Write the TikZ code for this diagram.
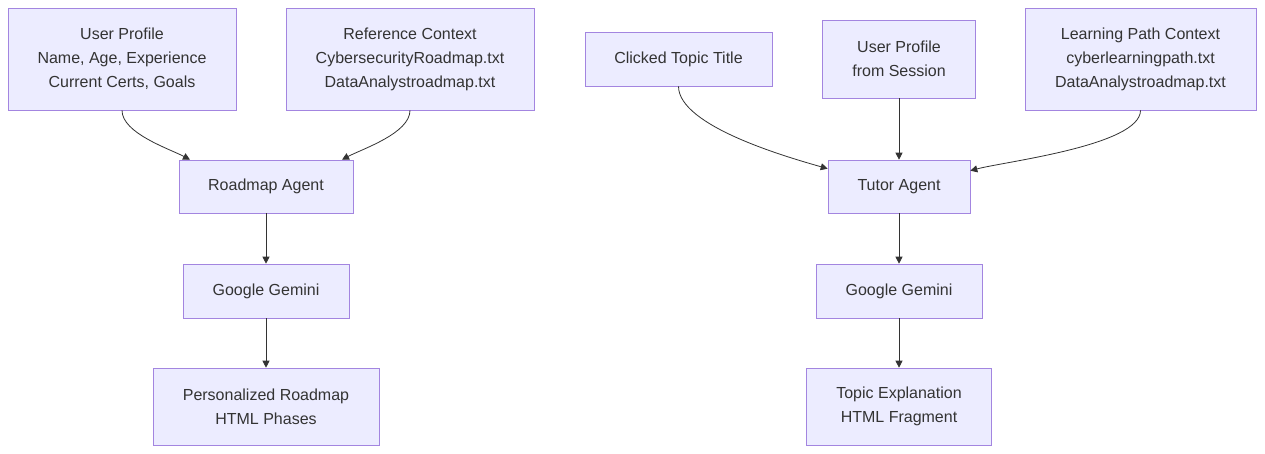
\documentclass[tikz,border=0pt]{standalone}
\usepackage{fontspec}
\setmainfont{Liberation Sans}
\usepackage{xcolor}
\usetikzlibrary{arrows.meta}
\definecolor{boxfill}{HTML}{ECECFF}
\definecolor{boxline}{HTML}{9370DB}
\definecolor{ink}{HTML}{333333}
\begin{document}
\begin{tikzpicture}[x=1pt,y=-1pt,
	font=\fontsize{16}{24}\selectfont, text=ink]
\tikzstyle{box} = [draw=boxline!85, fill=boxfill, line width=0.6pt, inner sep=0pt, align=center]
\tikzstyle{flow} = [draw=ink, line width=0.8pt, -{Triangle[length=7pt,width=7pt]}]
\useasboundingbox (0,0) rectangle (1265,454);
% roadmap side
\node[box, minimum width=228pt, minimum height=102pt] (up1) at (122,59) {User Profile\\Name, Age, Experience\\Current Certs, Goals};
\node[box, minimum width=248pt, minimum height=102pt] (rc) at (410,59) {Reference Context\\CybersecurityRoadmap.txt\\DataAnalystroadmap.txt};
\node[box, minimum width=174pt, minimum height=53pt] (ra) at (266,186.5) {Roadmap Agent};
\node[box, minimum width=166pt, minimum height=54pt] (gg1) at (266,291) {Google Gemini};
\node[box, minimum width=226pt, minimum height=77pt] (pr) at (266,406.5) {Personalized Roadmap\\HTML Phases};
% tutor side
\node[box, minimum width=187pt, minimum height=54pt] (ct) at (678.5,59) {Clicked Topic Title};
\node[box, minimum width=153pt, minimum height=78pt] (up2) at (899,59) {User Profile\\from Session};
\node[box, minimum width=231pt, minimum height=102pt] (lp) at (1140.5,59) {Learning Path Context\\cyberlearningpath.txt\\DataAnalystroadmap.txt};
\node[box, minimum width=142pt, minimum height=53pt] (ta) at (899,186.5) {Tutor Agent};
\node[box, minimum width=166pt, minimum height=54pt] (gg2) at (899,291) {Google Gemini};
\node[box, minimum width=185pt, minimum height=77pt] (te) at (899,406.5) {Topic Explanation\\HTML Fragment};
% connectors
\draw[flow] (up1.south) to[out=-90, in=152, looseness=0.7] ([xshift=-76pt]ra.north);
\draw[flow] (rc.south) to[out=-90, in=28, looseness=0.7] ([xshift=76pt]ra.north);
\draw[flow] (ra) -- (gg1);
\draw[flow] (gg1) -- (pr);
\draw[flow] (ct.south) to[out=-90, in=164, looseness=0.6] ([yshift=-9pt]ta.north west);
\draw[flow] (up2) -- (ta);
\draw[flow] (lp.south) to[out=-90, in=15, looseness=0.5] ([yshift=-11pt]ta.north east);
\draw[flow] (ta) -- (gg2);
\draw[flow] (gg2) -- (te);
\end{tikzpicture}
\end{document}
